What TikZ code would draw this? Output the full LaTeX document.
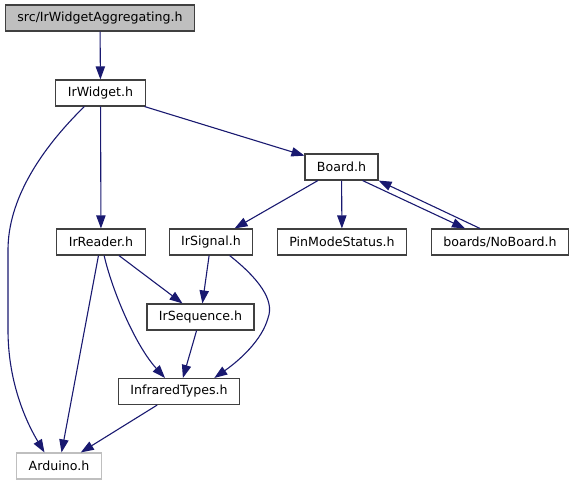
\documentclass[tikz,border=0pt]{standalone}
\usepackage{fontspec}
\setmainfont{DejaVu Sans}
\usepackage{tikz}
\usetikzlibrary{positioning,arrows.meta}
\definecolor{edgeblue}{HTML}{191970}
\definecolor{boxline}{HTML}{404040}
\definecolor{boxgray}{HTML}{BFBFBF}

\begin{document}
\begin{tikzpicture}[x=1pt,y=-1pt,
  file/.style={draw=boxline,line width=1.1pt,fill=white,inner xsep=12pt,inner ysep=0pt,
    minimum height=26pt,font=\fontsize{12.6}{15}\selectfont},
  dep/.style={draw=edgeblue,line width=1.1pt,-{Triangle[length=13pt,width=9.3pt]}}]
\useasboundingbox (0,0) rectangle (575,485);
% files
\node[file,fill=boxgray] (top) at (100,18) {src/IrWidgetAggregating.h};
\node[file] (irwidget) at (100.5,93) {IrWidget.h};
\node[file] (board) at (341.5,167) {Board.h};
\node[file] (irreader) at (101,242) {IrReader.h};
\node[file] (irsignal) at (211,242) {IrSignal.h};
\node[file] (pinmode) at (342,242) {PinModeStatus.h};
\node[file] (noboard) at (500,242) {boards/NoBoard.h};
\node[file] (irsequence) at (200.5,317) {IrSequence.h};
\node[file] (infrared) at (179,391.5) {InfraredTypes.h};
\node[file,draw=boxgray] (arduino) at (59,466) {Arduino.h};
% includes
\draw[dep] (top) -- (irwidget);
\draw[dep] (irwidget) -- (board);
\draw[dep] (irwidget) -- (irreader);
\draw[dep] (irwidget.220) .. controls (40,150) and (8,200) .. (8,250)
  -- (8,330) .. controls (8,385) and (28,425) .. (arduino.137);
\draw[dep] (board) -- (irsignal);
\draw[dep] (board) -- (pinmode);
\draw[dep] ([xshift=-16pt]board.south east) -- ([xshift=-35pt]noboard.north);
\draw[dep] ([xshift=-20pt]noboard.north) -- (board.south east);
\draw[dep] (irreader) -- (irsequence);
\draw[dep] (irreader.283) .. controls (112,290) and (135,345) .. (infrared.136);
\draw[dep] (irreader) -- (arduino);
\draw[dep] (irsignal) -- (irsequence);
\draw[dep] (irsignal.324) .. controls (258,278) and (275,300) .. (268,318)
  .. controls (262,340) and (240,360) .. (infrared.21);
\draw[dep] (irsequence) -- (infrared);
\draw[dep] (infrared) -- (arduino);
\end{tikzpicture}
\end{document}
